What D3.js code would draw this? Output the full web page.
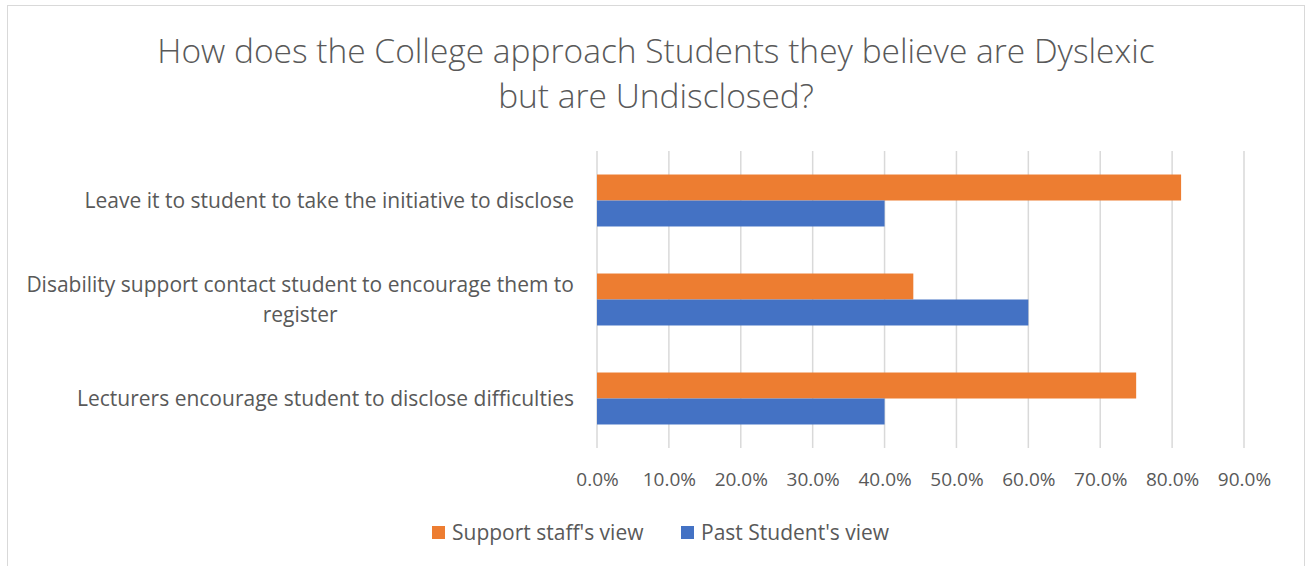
<!DOCTYPE html>
<html>
<head>
<meta charset="utf-8">
<script src="https://cdn.jsdelivr.net/npm/d3@7"></script>
<style>
  body { margin: 0; background: #fff; }
  svg { display: block; font-family: "Open Sans", sans-serif; }
</style>
</head>
<body>
<svg id="chart" width="1309" height="566"></svg>
<script>
// chart data
var categories = [
  "Leave it to student to take the initiative to disclose",
  "Disability support contact student to encourage them to register",
  "Lecturers encourage student to disclose difficulties"
];
var seriesNames = ["Support staff's view", "Past Student's view"];
var supportStaff = [0.8125, 0.44, 0.75];
var pastStudent = [0.40, 0.60, 0.40];
var tickValues = [0, 0.1, 0.2, 0.3, 0.4, 0.5, 0.6, 0.7, 0.8, 0.9];
var colors = ["#ED7D31", "#4472C4"];

var svg = d3.select("#chart");
var textColor = "#595959", fontSize = "21px";

// chart border
svg.append("rect")
    .attr("x", 7.5).attr("y", 5.5)
    .attr("width", 1297).attr("height", 580)
    .attr("fill", "#fff")
    .attr("stroke", "#d9d9d9");

// title
var title = svg.append("text")
    .attr("text-anchor", "middle")
    .attr("fill", textColor)
    .attr("font-size", "33.5px")
    .attr("font-weight", 300);
title.append("tspan").attr("x", 656).attr("y", 63)
    .text("How does the College approach Students they believe are Dyslexic");
title.append("tspan").attr("x", 656).attr("y", 108)
    .text("but are Undisclosed?");

var x = d3.scaleLinear()
    .domain([0, 0.9])
    .range([597, 1244]);

var y = d3.scaleBand()
    .domain(categories)
    .range([151, 448])
    .paddingInner(0.475)
    .paddingOuter(0.2375);

var ySeries = d3.scaleBand()
    .domain(seriesNames)
    .range([0, y.bandwidth()]);

// gridlines
svg.append("g")
    .selectAll("line")
    .data(tickValues)
    .enter().append("line")
      .attr("x1", d => x(d)).attr("x2", d => x(d))
      .attr("y1", 151).attr("y2", 448)
      .attr("stroke", "#d9d9d9")
      .attr("stroke-width", 1.5);

// x tick labels
var xAxis = svg.append("g")
    .attr("transform", "translate(0,448)")
    .call(d3.axisBottom(x).tickValues(tickValues).tickFormat(d3.format(".1%")).tickSize(0).tickPadding(25));
xAxis.select(".domain").remove();
xAxis.selectAll("text")
    .attr("fill", textColor)
    .attr("font-size", "19px")
    .attr("font-family", "'Open Sans', sans-serif");

// bars
var rows = categories.map((c, i) => ({ cat: c, values: [supportStaff[i], pastStudent[i]] }));
var groups = svg.append("g")
    .selectAll("g")
    .data(rows)
    .enter().append("g")
      .attr("transform", d => "translate(0," + y(d.cat) + ")");

groups.selectAll("rect")
    .data(d => d.values.map((v, j) => ({ name: seriesNames[j], value: v, color: colors[j] })))
    .enter().append("rect")
      .attr("x", x(0))
      .attr("y", d => ySeries(d.name))
      .attr("width", d => x(d.value) - x(0))
      .attr("height", ySeries.bandwidth())
      .attr("fill", d => d.color);

// category labels, wrapped and centred in a right-aligned block
var labelRight = 574, maxWidth = 555, lineHeight = 30;
var labels = svg.append("g");
categories.forEach(function (c) {
  var t = labels.append("text")
      .attr("fill", textColor)
      .attr("font-size", fontSize)
      .attr("text-anchor", "middle");
  var words = c.split(" "), lines = [], line = [];
  var probe = t.append("tspan");
  words.forEach(function (w) {
    line.push(w);
    probe.text(line.join(" "));
    if (probe.node().getComputedTextLength() > maxWidth && line.length > 1) {
      line.pop();
      lines.push(line.join(" "));
      line = [w];
    }
  });
  lines.push(line.join(" "));
  var widest = 0;
  lines.forEach(function (l) {
    probe.text(l);
    widest = Math.max(widest, probe.node().getComputedTextLength());
  });
  probe.remove();
  var cx = labelRight - widest / 2;
  var cy = y(c) + y.bandwidth() / 2;
  var y0 = cy - (lines.length - 1) * lineHeight / 2 + 7;
  lines.forEach(function (l, k) {
    t.append("tspan").attr("x", cx).attr("y", y0 + k * lineHeight).text(l);
  });
});

// legend
var legend = svg.append("g")
    .selectAll("g")
    .data(seriesNames)
    .enter().append("g")
      .attr("transform", (d, i) => "translate(" + [432, 681][i] + ",526)");
legend.append("rect")
    .attr("width", 13).attr("height", 13)
    .attr("fill", (d, i) => colors[i]);
legend.append("text")
    .attr("x", 20).attr("y", 14)
    .attr("fill", textColor)
    .attr("font-size", fontSize)
    .text(d => d);
</script>
</body>
</html>
